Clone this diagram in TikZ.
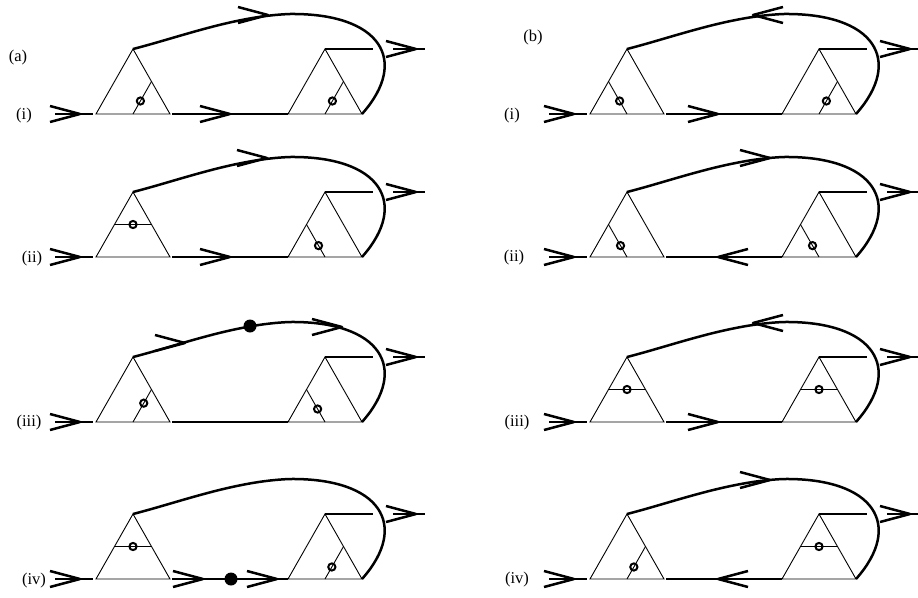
\documentclass[tikz,border=0pt]{standalone}
\usepackage{fontspec}
\setmainfont{Liberation Serif}
\usetikzlibrary{calc}
\tikzset{
  thn/.style={line width=0.9pt},
  thk/.style={line width=2.5pt},
  ring/.style={line width=2pt},
  lbl/.style={font=\fontsize{16.5}{18}\selectfont, inner sep=0pt}
}
\newcommand\Tri[2]{%
  \coordinate (#1-l) at (#2,114);
  \coordinate (#1-r) at ({#2+74},114);
  \coordinate (#1-a) at ({#2+37},49);
  \coordinate (#1-m) at ({#2+37},114);
  \coordinate (#1-lm) at ({#2+18.5},81.5);
  \coordinate (#1-rm) at ({#2+55.5},81.5);
  \draw[thn] (#1-l) -- (#1-r) -- (#1-a) -- cycle;}
\newcommand\InR[2]{\draw[thn] (#1-m) -- (#1-rm); \draw[ring] ($(#1-m)!#2!(#1-rm)$) circle (3.6);}
\newcommand\InL[2]{\draw[thn] (#1-m) -- (#1-lm); \draw[ring] ($(#1-m)!#2!(#1-lm)$) circle (3.6);}
\newcommand\InH[1]{\draw[thn] (#1-lm) -- (#1-rm); \draw[ring] ($(#1-lm)!0.5!(#1-rm)$) circle (3.6);}
\newcommand\ChevR[2]{\draw[thk,line join=round] ({#1-30},{#2-8}) -- (#1,#2) -- ({#1-30},{#2+8});}
\newcommand\ChevL[2]{\draw[thk,line join=round] ({#1+30},{#2-8}) -- (#1,#2) -- ({#1+30},{#2+8});}
\newcommand\Dot[2]{\fill (#1,#2) circle (6.5);}
\newcommand\Base[1]{%
  \Tri{#1-t1}{96}\Tri{#1-t2}{288}
  \coordinate (#1-i0) at (55,114); \coordinate (#1-i1) at (93,114);
  \coordinate (#1-m0) at (172,114);
  \coordinate (#1-o0) at (373,49);
  \coordinate (#1-q0) at (393,49); \coordinate (#1-q1) at (425,49);
  \coordinate (#1-top) at (290,14);
  \draw[thk] (#1-i0) -- (#1-i1);
  \draw[thk] (#1-m0) -- (#1-t2-l);
  \draw[thk] (#1-t2-a) -- (#1-o0);
  \draw[thk] (#1-q0) -- (#1-q1);
  \draw[thk] (#1-t1-a) .. controls (180,37) and (235,16) .. (#1-top)
     .. controls (380,13) and (410,60) .. (#1-t2-r);
  \ChevR{80}{114}\ChevR{416}{49}}
\begin{document}
\begin{tikzpicture}[x=1pt,y=-1pt]
\useasboundingbox (0,0) rectangle (918,597);
% labels
\node[lbl] (la) at (18,58) {(a)};
\node[lbl] (lb) at (533,38) {(b)};
\node[lbl] (la1) at (24,116) {(i)};
\node[lbl] (la2) at (32,259) {(ii)};
\node[lbl] (la3) at (29,423) {(iii)};
\node[lbl] (la4) at (34,581) {(iv)};
\node[lbl] (lb1) at (512,116) {(i)};
\node[lbl] (lb2) at (514,258) {(ii)};
\node[lbl] (lb3) at (517,423) {(iii)};
\node[lbl] (lb4) at (517,580) {(iv)};
% (a)(i)
\begin{scope}[shift={(0,0)}]
  \Base{a1} \InR{a1-t1}{0.4} \InR{a1-t2}{0.4}
  \ChevR{230}{114} \ChevR{268}{15}
\end{scope}
% (a)(ii)
\begin{scope}[shift={(0,143)}]
  \Base{a2} \InH{a2-t1} \InL{a2-t2}{0.35}
  \ChevR{230}{114} \ChevR{267}{15}
\end{scope}
% (a)(iii)
\begin{scope}[shift={(0,308)}]
  \Base{a3} \InR{a3-t1}{0.58} \InL{a3-t2}{0.4}
  \ChevR{185}{35} \Dot{250}{18} \ChevR{342}{19}
\end{scope}
% (a)(iv)
\begin{scope}[shift={(0,465)}]
  \Base{a4} \InH{a4-t1} \InR{a4-t2}{0.37}
  \ChevR{203}{114} \Dot{231}{114} \ChevR{277}{114}
\end{scope}
% (b)(i)
\begin{scope}[shift={(494,0)}]
  \Base{b1} \InL{b1-t1}{0.4} \InR{b1-t2}{0.4}
  \ChevR{224}{114} \ChevL{259}{15}
\end{scope}
% (b)(ii)
\begin{scope}[shift={(494,143)}]
  \Base{b2} \InL{b2-t1}{0.35} \InL{b2-t2}{0.35}
  \ChevL{224}{114} \ChevR{276}{15}
\end{scope}
% (b)(iii)
\begin{scope}[shift={(494,308)}]
  \Base{b3} \InH{b3-t1} \InH{b3-t2}
  \ChevR{224}{114} \ChevL{259}{15}
\end{scope}
% (b)(iv)
\begin{scope}[shift={(494,465)}]
  \Base{b4} \InR{b4-t1}{0.37} \InH{b4-t2}
  \ChevL{224}{114} \ChevR{276}{15}
\end{scope}
\end{tikzpicture}
\end{document}
